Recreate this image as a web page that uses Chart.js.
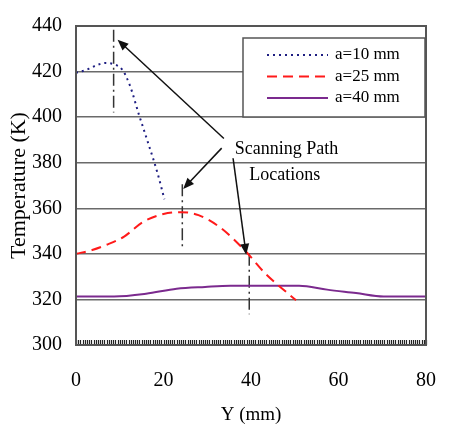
<!DOCTYPE html>
<html>
<head>
<meta charset="utf-8">
<script src="https://cdn.jsdelivr.net/npm/chart.js@4"></script>
<style>
  html, body { margin: 0; padding: 0; background: #fff; }
</style>
</head>
<body>
<canvas id="myChart" width="460" height="431"></canvas>
<script>
// values (x = Y in mm, y = temperature in K)
const a10X = [0, 2, 3, 5, 6.7, 8.5, 10.5, 12.3, 14.4, 16.6, 18.7, 20.2];
const a10Y = [419.5, 420.5, 421.3, 423, 423.8, 423.3, 421, 414, 401, 388, 375, 364];

const a25X = [0, 3.7, 7, 11, 15.3, 20, 24, 28, 33, 38.5, 43.2, 48.2, 50.3];
const a25Y = [340, 341.7, 344, 347.6, 354, 357.5, 358.3, 357, 351.5, 341.7, 331.5, 323, 319.6];

const a40X = [0, 8.7, 16, 23, 29.5, 35.3, 51, 57.4, 64, 70.3, 80];
const a40Y = [321.3, 321.3, 322.5, 324.7, 325.5, 326, 326, 324.3, 322.8, 321.3, 321.3];

const seriesLabels = ['a=10 mm', 'a=25 mm', 'a=40 mm'];
const xTicks = [0, 20, 40, 60, 80];
const yTicks = [300, 320, 340, 360, 380, 400, 420, 440];

// scanning path markers (dash-dot lines) and arrows pointing at them
const pathX = [8.6, 24.3, 39.6];
const pathTop = [438.3, 370.5, 340];
const pathBottom = [402, 343, 313.5];
const arrowFrom = [[33.8, 390.6], [33.3, 386.4], [35.9, 382]];
const arrowTo = [[9.5, 434], [24.5, 368.5], [38.9, 339.6]];
const noteLines = ['Scanning Path', 'Locations'];
const noteAt = [[36.3, 386], [39.6, 374.5]];

const serif = "'Liberation Serif', 'DejaVu Serif', serif";

function pts(xs, ys) {
    return xs.map((x, i) => ({ x: x, y: ys[i] }));
}

const datasets = [
    { label: seriesLabels[0], data: pts(a10X, a10Y), borderColor: '#1e1e82', borderWidth: 2, borderDash: [2, 4], cubicInterpolationMode: 'monotone' },
    { label: seriesLabels[1], data: pts(a25X, a25Y), borderColor: '#ff1a1a', borderWidth: 2, borderDash: [10, 6], cubicInterpolationMode: 'monotone' },
    { label: seriesLabels[2], data: pts(a40X, a40Y), borderColor: '#7b2a8e', borderWidth: 2, cubicInterpolationMode: 'monotone' }
];
pathX.forEach((x, i) => {
    datasets.push({
        label: 'path' + i,
        data: [{ x: x, y: pathTop[i] }, { x: x, y: pathBottom[i] }],
        borderColor: '#333',
        borderWidth: 1.5,
        borderDash: [12, 4, 2, 4],
        tension: 0
    });
});

const decor = {
    id: 'decor',
    beforeDatasetsDraw(chart) {
        const ctx = chart.ctx;
        const area = chart.chartArea;
        const xs = chart.scales.x;
        // dense minor ticks along the bottom edge
        ctx.save();
        ctx.strokeStyle = '#222';
        ctx.lineWidth = 1.2;
        for (let v = 0; v <= 80; v += 0.5) {
            const px = Math.round(xs.getPixelForValue(v)) + 0.5;
            ctx.beginPath();
            ctx.moveTo(px, area.bottom);
            ctx.lineTo(px, area.bottom - 5);
            ctx.stroke();
        }
        ctx.restore();
    },
    afterDatasetsDraw(chart) {
        const ctx = chart.ctx;
        const area = chart.chartArea;
        const xs = chart.scales.x;
        const ys = chart.scales.y;
        ctx.save();

        // plot frame
        ctx.strokeStyle = '#555';
        ctx.lineWidth = 2;
        ctx.strokeRect(area.left, area.top, area.right - area.left, area.bottom - area.top);

        // legend box
        const lx = area.left + 167, ly = area.top + 12, lw = 182, lh = 79;
        ctx.fillStyle = '#fff';
        ctx.fillRect(lx, ly, lw, lh);
        ctx.strokeStyle = '#555';
        ctx.lineWidth = 1.5;
        ctx.strokeRect(lx, ly, lw, lh);
        ctx.font = '17px ' + serif;
        ctx.textBaseline = 'middle';
        ctx.textAlign = 'left';
        for (let i = 0; i < 3; i++) {
            const ds = chart.data.datasets[i];
            const ry = ly + 17 + i * 21.5;
            ctx.strokeStyle = ds.borderColor;
            ctx.lineWidth = ds.borderWidth;
            ctx.setLineDash(ds.borderDash || []);
            ctx.beginPath();
            ctx.moveTo(lx + 24, ry);
            ctx.lineTo(lx + 85, ry);
            ctx.stroke();
            ctx.setLineDash([]);
            ctx.fillStyle = '#000';
            ctx.fillText(ds.label, lx + 92, ry);
        }

        // arrows
        ctx.strokeStyle = '#111';
        ctx.fillStyle = '#111';
        ctx.lineWidth = 1.5;
        arrowFrom.forEach((f, i) => {
            const x1 = xs.getPixelForValue(f[0]), y1 = ys.getPixelForValue(f[1]);
            const x2 = xs.getPixelForValue(arrowTo[i][0]), y2 = ys.getPixelForValue(arrowTo[i][1]);
            const ang = Math.atan2(y2 - y1, x2 - x1);
            ctx.beginPath();
            ctx.moveTo(x1, y1);
            ctx.lineTo(x2 - 6 * Math.cos(ang), y2 - 6 * Math.sin(ang));
            ctx.stroke();
            ctx.beginPath();
            ctx.moveTo(x2, y2);
            ctx.lineTo(x2 - 11 * Math.cos(ang) + 4.5 * Math.sin(ang), y2 - 11 * Math.sin(ang) - 4.5 * Math.cos(ang));
            ctx.lineTo(x2 - 11 * Math.cos(ang) - 4.5 * Math.sin(ang), y2 - 11 * Math.sin(ang) + 4.5 * Math.cos(ang));
            ctx.closePath();
            ctx.fill();
        });

        // note text
        ctx.font = '18px ' + serif;
        noteLines.forEach((t, i) => {
            const px = xs.getPixelForValue(noteAt[i][0]);
            const py = ys.getPixelForValue(noteAt[i][1]);
            ctx.fillStyle = '#fff';
            ctx.fillRect(px - 1, py - 10, ctx.measureText(t).width + 2, 20);
            ctx.fillStyle = '#000';
            ctx.fillText(t, px, py);
        });
        ctx.restore();
    }
};

const canvas = document.getElementById('myChart');
const ctx = canvas.getContext('2d');
const myChart = new Chart(ctx, {
    type: 'line',
    data: { datasets: datasets },
    plugins: [decor],
    options: {
        responsive: false,
        animation: false,
        devicePixelRatio: 1,
        layout: { padding: { top: 14, right: 12, left: 0, bottom: 0 } },
        elements: { point: { radius: 0 } },
        plugins: { legend: { display: false }, tooltip: { enabled: false } },
        scales: {
            x: {
                type: 'linear',
                min: 0,
                max: 80,
                afterBuildTicks: (s) => { s.ticks = xTicks.map(v => ({ value: v })); },
                afterFit: (s) => { s.height = 86; },
                grid: { display: false, drawTicks: false },
                border: { display: false },
                ticks: { color: '#000', padding: 24, font: { family: serif, size: 20 } },
                title: { display: true, text: 'Y (mm)', color: '#000', padding: { top: 0, bottom: 5 }, font: { family: serif, size: 19 } }
            },
            y: {
                min: 300,
                max: 440,
                afterBuildTicks: (s) => { s.ticks = yTicks.map(v => ({ value: v })); },
                afterFit: (s) => { s.width = 76; },
                grid: { color: '#6a6a6a', lineWidth: 1.5, drawTicks: false },
                border: { display: false },
                ticks: { color: '#000', padding: 14, font: { family: serif, size: 20 } },
                title: { display: true, text: 'Temperature (K)', color: '#000', padding: { top: 6, bottom: 0 }, font: { family: serif, size: 22 } }
            }
        }
    }
});
</script>
</body>
</html>
